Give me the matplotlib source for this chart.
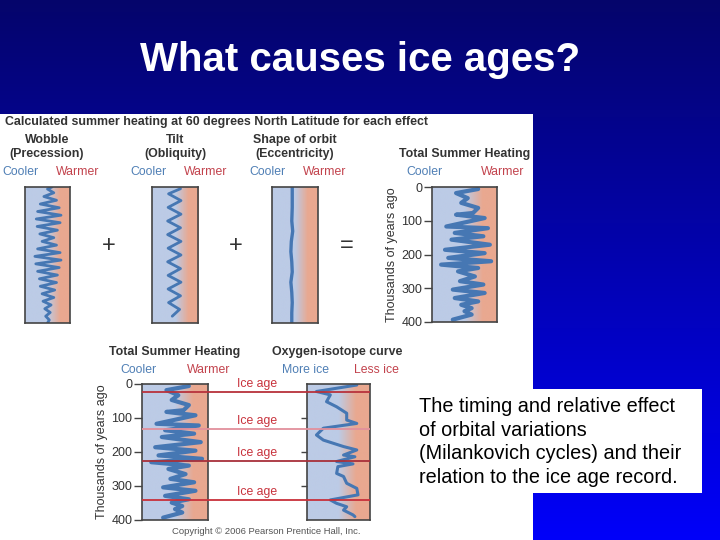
import numpy as np
import matplotlib.pyplot as plt
from matplotlib.colors import LinearSegmentedColormap
from matplotlib.patches import Rectangle

W, H = 720, 540

# --- data (thousands of years ago, relative heating 0=cooler .. 1=warmer) ---
year_ticks = [0, 100, 200, 300, 400]

wobble_t = [0, 6, 17, 28, 39, 50, 61, 72, 83, 94, 105, 116, 127, 138, 149, 160, 171, 182, 193,
            204, 215, 226, 237, 248, 259, 270, 281, 292, 303, 314, 325, 336, 347, 358, 369, 380, 391, 400]
wobble_v = [0.60, 0.50, 0.64, 0.42, 0.70, 0.34, 0.76, 0.28, 0.80, 0.25, 0.78, 0.27, 0.72, 0.33, 0.64,
            0.38, 0.70, 0.28, 0.78, 0.22, 0.80, 0.24, 0.76, 0.28, 0.72, 0.32, 0.70, 0.34, 0.66, 0.38,
            0.64, 0.40, 0.58, 0.44, 0.56, 0.46, 0.54, 0.50]

tilt_t = [5, 20, 40, 60, 80, 100, 120, 140, 160, 180, 200, 220, 240, 260, 280, 300, 320, 340, 360, 380]
tilt_v = [0.62, 0.36, 0.63, 0.35, 0.63, 0.34, 0.62, 0.34, 0.63, 0.35, 0.63, 0.34, 0.62, 0.35, 0.63,
          0.35, 0.62, 0.36, 0.60, 0.44]

ecc_t = [0, 60, 100, 130, 160, 190, 220, 250, 280, 310, 340, 370, 400]
ecc_v = [0.44, 0.44, 0.43, 0.45, 0.42, 0.41, 0.43, 0.44, 0.41, 0.43, 0.44, 0.43, 0.43]

total_t = [6, 18, 33, 47, 62, 77, 82, 92, 117, 122, 136, 146, 156, 171, 186, 196, 210, 220, 230,
           240, 250, 265, 279, 289, 304, 314, 329, 339, 349, 359, 368, 378, 393]
total_v = [0.71, 0.37, 0.55, 0.45, 0.71, 0.63, 0.37, 0.81, 0.22, 0.86, 0.35, 0.79, 0.30, 0.89, 0.20,
           0.81, 0.25, 0.91, 0.14, 0.71, 0.40, 0.66, 0.43, 0.79, 0.32, 0.81, 0.35, 0.71, 0.45, 0.61,
           0.50, 0.61, 0.32]

oxygen_t = [3, 22, 32, 52, 67, 86, 106, 116, 130, 150, 165, 184, 194, 209, 214, 228, 235, 243,
            263, 272, 292, 307, 326, 341, 351, 361, 371, 385, 390]
oxygen_v = [0.79, 0.15, 0.37, 0.31, 0.47, 0.63, 0.63, 0.79, 0.26, 0.15, 0.26, 0.58, 0.79, 0.58,
            0.76, 0.47, 0.73, 0.49, 0.47, 0.58, 0.63, 0.79, 0.81, 0.37, 0.47, 0.63, 0.58, 0.73, 0.76]

ice_age_t = [23, 132, 226, 341]
ice_age_col = ['#b8323c', '#e2909c', '#a8303a', '#c8303a']

CURVE = '#4677b3'
COOL = '#4f7fb5'
WARM = '#c2424c'
INK = '#333333'

plt.rcParams['font.family'] = ['Liberation Sans', 'DejaVu Sans']

fig = plt.figure(figsize=(7.2, 5.4), dpi=100)


def fig_box(x0, y0, x1, y1):
    return [x0 / W, 1 - y1 / H, (x1 - x0) / W, (y1 - y0) / H]


def label(x, y, s, **kw):
    kw.setdefault('ha', 'center')
    kw.setdefault('va', 'center')
    fig.text(x / W, 1 - y / H, s, **kw)


# slide background
bg = fig.add_axes([0, 0, 1, 1])
bg.set_xlim(0, W)
bg.set_ylim(H, 0)
bg.axis('off')
slide = LinearSegmentedColormap.from_list('slide', [(0.02, 0.02, 0.42), (0.0, 0.0, 0.98)])
bg.imshow(np.linspace(0, 1, 256)[:, None], extent=(0, W, H, 0), aspect='auto', cmap=slide)
bg.add_patch(Rectangle((0, 114), 533, H - 114, facecolor='white', edgecolor='none'))
bg.add_patch(Rectangle((413, 389), 289, 104, facecolor='white', edgecolor='none'))

label(360, 60, 'What causes ice ages?', color='white', fontsize=29, fontweight='bold')
label(419, 442, 'The timing and relative effect\nof orbital variations\n(Milankovich cycles) and their\n'
      'relation to the ice age record.', ha='left', fontsize=14.3, linespacing=1.3, color='black')

heat_cmap = LinearSegmentedColormap.from_list(
    'heat', [(0, '#bccbe6'), (0.5, '#bccbe6'), (0.78, '#e9a890'), (1, '#e9a890')])


def heat_panel(box, t, v, lw, tick_labels=False, ticks=False):
    ax = fig.add_axes(fig_box(*box))
    ax.imshow(np.linspace(0, 1, 256)[None, :], extent=(0, 1, 400, 0), aspect='auto', cmap=heat_cmap)
    ax.plot(v, t, color=CURVE, lw=lw, solid_joinstyle='round', solid_capstyle='round')
    ax.set_xlim(0, 1)
    ax.set_ylim(400, 0)
    ax.set_xticks([])
    for s in ax.spines.values():
        s.set_color('#444444')
        s.set_linewidth(1.2)
    if tick_labels:
        ax.set_yticks(year_ticks)
        ax.tick_params(axis='y', length=6, width=1, color='#444444', labelsize=9, labelcolor=INK, pad=1)
        ax.set_ylabel('Thousands of years ago', fontsize=9, color=INK, labelpad=2)
    elif ticks:
        ax.set_yticks(year_ticks[1:-1])
        ax.set_yticklabels([])
        ax.tick_params(axis='y', length=4, width=1, color='#444444')
    else:
        ax.set_yticks([])
    return ax


# top row: the three orbital effects and their sum
heat_panel((25, 187, 70, 323), wobble_t, wobble_v, 2.0)
heat_panel((152, 187, 198, 323), tilt_t, tilt_v, 2.0)
heat_panel((272, 187, 318, 323), ecc_t, ecc_v, 2.4)
heat_panel((432, 187, 497, 322), total_t, total_v, 3.0, tick_labels=True)

label(5, 122, 'Calculated summer heating at 60 degrees North Latitude for each effect',
      ha='left', fontsize=8.9, fontweight='bold', color=INK)
for x, s in [(47, 'Wobble\n(Precession)'), (175, 'Tilt\n(Obliquity)'), (295, 'Shape of orbit\n(Eccentricity)')]:
    label(x, 147, s, fontsize=8.9, fontweight='bold', color=INK, linespacing=1.15)
label(465, 154, 'Total Summer Heating', fontsize=8.9, fontweight='bold', color=INK)
for xc, xw in [(20, 78), (148, 206), (267, 325), (424, 503)]:
    label(xc, 172, 'Cooler', fontsize=8.8, color=COOL)
    label(xw, 172, 'Warmer', fontsize=8.8, color=WARM)
for x, s in [(109, '+'), (236, '+'), (347, '=')]:
    label(x, 246, s, fontsize=17, color=INK)

# bottom row: total heating vs oxygen-isotope record
heat_panel((142, 384, 208, 520), total_t, total_v, 3.0, tick_labels=True)
heat_panel((307, 384, 370, 520), oxygen_t, oxygen_v, 2.2, ticks=True)

ice = fig.add_axes(fig_box(142, 384, 370, 520))
ice.set_xlim(142, 370)
ice.set_ylim(400, 0)
ice.axis('off')
for t, c in zip(ice_age_t, ice_age_col):
    ice.hlines(t, 142, 370, color=c, lw=1.3)
    ice.text(257, t - 6, 'Ice age', ha='center', va='bottom', fontsize=8.8, color='#c8323c', clip_on=False)

label(175, 352, 'Total Summer Heating', fontsize=8.9, fontweight='bold', color=INK)
label(337, 352, 'Oxygen-isotope curve', fontsize=8.9, fontweight='bold', color=INK)
label(138, 370, 'Cooler', fontsize=8.8, color=COOL)
label(209, 370, 'Warmer', fontsize=8.8, color=WARM)
label(306, 370, 'More ice', fontsize=8.8, color=COOL)
label(376, 370, 'Less ice', fontsize=8.8, color=WARM)
label(266, 532, 'Copyright \u00a9 2006 Pearson Prentice Hall, Inc.', fontsize=6.8, color='#555555')

fig.savefig('out.png', dpi=100)
